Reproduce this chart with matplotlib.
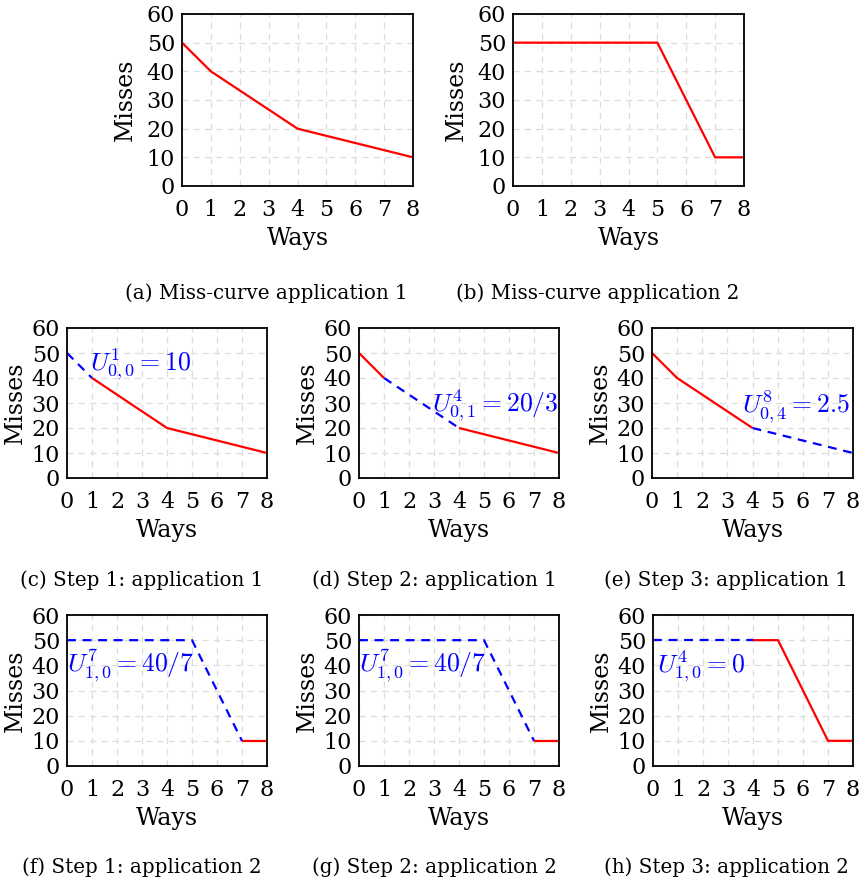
import matplotlib
matplotlib.use("Agg")
import matplotlib.pyplot as plt

# miss curves
ways_app1 = [0, 1, 4, 8]
misses_app1 = [50, 40, 20, 10]
ways_app2 = [0, 5, 7, 8]
misses_app2 = [50, 50, 10, 10]
# step 3 for app 2 splits at 4 ways
ways_app2_s3_blue = [0, 4]
misses_app2_s3_blue = [50, 50]
ways_app2_s3_red = [4, 5, 7, 8]
misses_app2_s3_red = [50, 50, 10, 10]

captions = ["(a) Miss-curve application 1", "(b) Miss-curve application 2",
            "(c) Step 1: application 1", "(d) Step 2: application 1",
            "(e) Step 3: application 1",
            "(f) Step 1: application 2", "(g) Step 2: application 2",
            "(h) Step 3: application 2"]
utility_labels = [r"$U^{1}_{0,0} = 10$", r"$U^{4}_{0,1} = 20/3$", r"$U^{8}_{0,4} = 2.5$",
                  r"$U^{7}_{1,0} = 40/7$", r"$U^{7}_{1,0} = 40/7$", r"$U^{4}_{1,0} = 0$"]
label_pos = [(0.9, 45.5), (2.9, 29), (3.6, 28.5), (0.0, 40), (0.0, 40), (0.15, 39.5)]

plt.rcParams['font.family'] = ['DejaVu Serif']
plt.rcParams['mathtext.fontset'] = 'cm'

W, H = 861, 885
fig = plt.figure(figsize=(W / 100, H / 100), dpi=100)

def make_ax(left, top, right, bottom, ylab_off):
    ax = fig.add_axes([left / W, 1 - bottom / H, (right - left) / W, (bottom - top) / H])
    ax.set_xlim(0, 8)
    ax.set_ylim(0, 60)
    ax.set_xticks(range(0, 9))
    ax.set_yticks(range(0, 61, 10))
    ax.tick_params(length=0, labelsize=16)
    ax.tick_params(axis='x', pad=9)
    ax.tick_params(axis='y', pad=5)
    ax.grid(True, color='#dddddd', linestyle=(0, (5, 4)), linewidth=0.9)
    ax.set_axisbelow(True)
    for s in ax.spines.values():
        s.set_linewidth(1.3)
    ax.set_xlabel("Ways", fontsize=17, labelpad=5)
    ax.set_ylabel("Misses", fontsize=17)
    ax.yaxis.set_label_coords(ylab_off / (right - left), 0.5)
    return ax

red = dict(color='red', lw=1.6, solid_capstyle='butt')
blue = dict(color='blue', lw=1.6, linestyle=(0, (4, 3)))

# top row
ax = make_ax(182, 14, 413, 186, -45)
ax.plot(ways_app1, misses_app1, **red)
ax = make_ax(513, 14, 744, 186, -45)
ax.plot(ways_app2, misses_app2, **red)

# middle row
ax_c = make_ax(67, 328, 267, 478, -40)
ax_c.plot(ways_app1[:2], misses_app1[:2], **blue)
ax_c.plot(ways_app1[1:], misses_app1[1:], **red)
ax_d = make_ax(359, 328, 559, 478, -40)
ax_d.plot(ways_app1[:2], misses_app1[:2], **red)
ax_d.plot(ways_app1[1:3], misses_app1[1:3], **blue)
ax_d.plot(ways_app1[2:], misses_app1[2:], **red)
ax_e = make_ax(652, 328, 853, 478, -40)
ax_e.plot(ways_app1[:3], misses_app1[:3], **red)
ax_e.plot(ways_app1[2:], misses_app1[2:], **blue)

# bottom row
ax_f = make_ax(67, 615, 267, 766, -40)
ax_f.plot(ways_app2[:3], misses_app2[:3], **blue)
ax_f.plot(ways_app2[2:], misses_app2[2:], **red)
ax_g = make_ax(359, 615, 559, 766, -40)
ax_g.plot(ways_app2[:3], misses_app2[:3], **blue)
ax_g.plot(ways_app2[2:], misses_app2[2:], **red)
ax_h = make_ax(653, 615, 853, 766, -40)
ax_h.plot(ways_app2_s3_blue, misses_app2_s3_blue, **blue)
ax_h.plot(ways_app2_s3_red, misses_app2_s3_red, **red)

for a, lab, (x, y) in zip([ax_c, ax_d, ax_e, ax_f, ax_g, ax_h], utility_labels, label_pos):
    a.text(x, y, lab, color='blue', fontsize=18.5, va='center', ha='left')

# captions
cap_xy = [(266, 293), (598, 293),
          (142, 580), (434, 580), (726, 580),
          (142, 867), (434, 867), (726, 867)]
for (x, y), c in zip(cap_xy, captions):
    fig.text(x / W, 1 - y / H, c, ha='center', va='center', fontsize=14.3)

fig.savefig("out.png", dpi=100)
